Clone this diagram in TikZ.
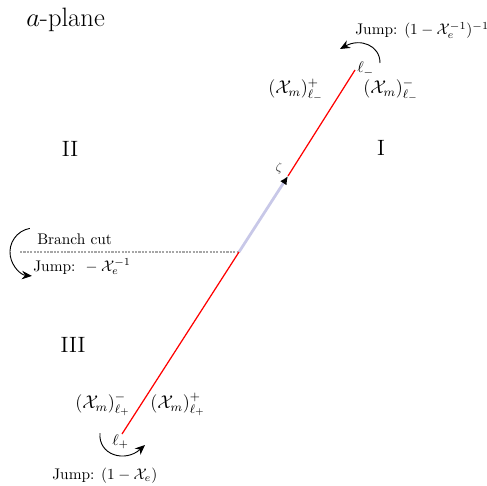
\documentclass[tikz,border=0pt]{standalone}
\usetikzlibrary{arrows.meta}
\definecolor{lavcol}{RGB}{200,200,232}
\begin{document}
\begin{tikzpicture}[x=0.65pt,y=0.65pt,
  lbl/.style={inner sep=0pt, anchor=base west},
  mlbl/.style={lbl, font=\large},
  redline/.style={red, line width=0.8pt},
  lavline/.style={lavcol, line width=1.8pt},
  cutline/.style={gray!70, line width=1.8pt, dash pattern=on 1.4pt off 0.8pt},
  jumparrow/.style={black, line width=0.6pt, -{Stealth[length=6.5pt,width=5.5pt]}}]
\useasboundingbox (0,0) rectangle (487,485);
% main line
\coordinate (Lp) at (122,51);
\coordinate (B) at (239,233);
\coordinate (Z) at (288,309);
\coordinate (Lm) at (355,415);
\coordinate (Cs) at (20,233);
\draw[cutline] (Cs) -- (B);
\draw[lavline, -{Latex[color=black,length=5.5pt,width=5pt]}] (B) -- (Z);
\draw[redline] (Lp) -- (B);
\draw[redline] (Z) -- (Lm);
% jump arrows
\coordinate (ta) at (380,422);
\coordinate (tb) at (340,436);
\draw[jumparrow] (ta) .. controls (380,440) and (360,447) .. (tb);
\coordinate (bs) at (29.8,256.6);
\draw[jumparrow] (bs) arc[start angle=100, end angle=265, radius=24];
\coordinate (pa) at (100,52);
\coordinate (pb) at (145,40);
\draw[jumparrow] (pa) .. controls (98,30) and (125,22) .. (pb);
% labels
\node[lbl, font=\LARGE] (title) at (26,458) {$a$-plane};
\node[font=\Large] (r1) at (381,337) {I};
\node[font=\Large] (r2) at (70,336) {II};
\node[font=\Large] (r3) at (73,140) {III};
\node[font=\footnotesize, text=black!75] (zl) at (279,317) {$\zeta$};
\node[mlbl] (mlm) at (268,391) {$(\mathcal{X}_m)^+_{\ell_-}$};
\node[mlbl] (mrm) at (363,391) {$(\mathcal{X}_m)^-_{\ell_-}$};
\node[mlbl] (mlp) at (75,76.5) {$(\mathcal{X}_m)^-_{\ell_+}$};
\node[mlbl] (mrp) at (150,76.5) {$(\mathcal{X}_m)^+_{\ell_+}$};
\node[lbl] (lm) at (357,412) {$\ell_-$};
\node[lbl] (lp) at (112,40) {$\ell_+$};
\node[lbl] (jt) at (355,450) {Jump: $(1-\mathcal{X}_e^{-1})^{-1}$};
\node[lbl] (bc) at (37,241) {Branch cut};
\node[lbl] (jc) at (33,214) {Jump: ${}-\mathcal{X}_e^{-1}$};
\node[lbl] (jb) at (52,6) {Jump: $(1-\mathcal{X}_e)$};
\end{tikzpicture}
\end{document}
